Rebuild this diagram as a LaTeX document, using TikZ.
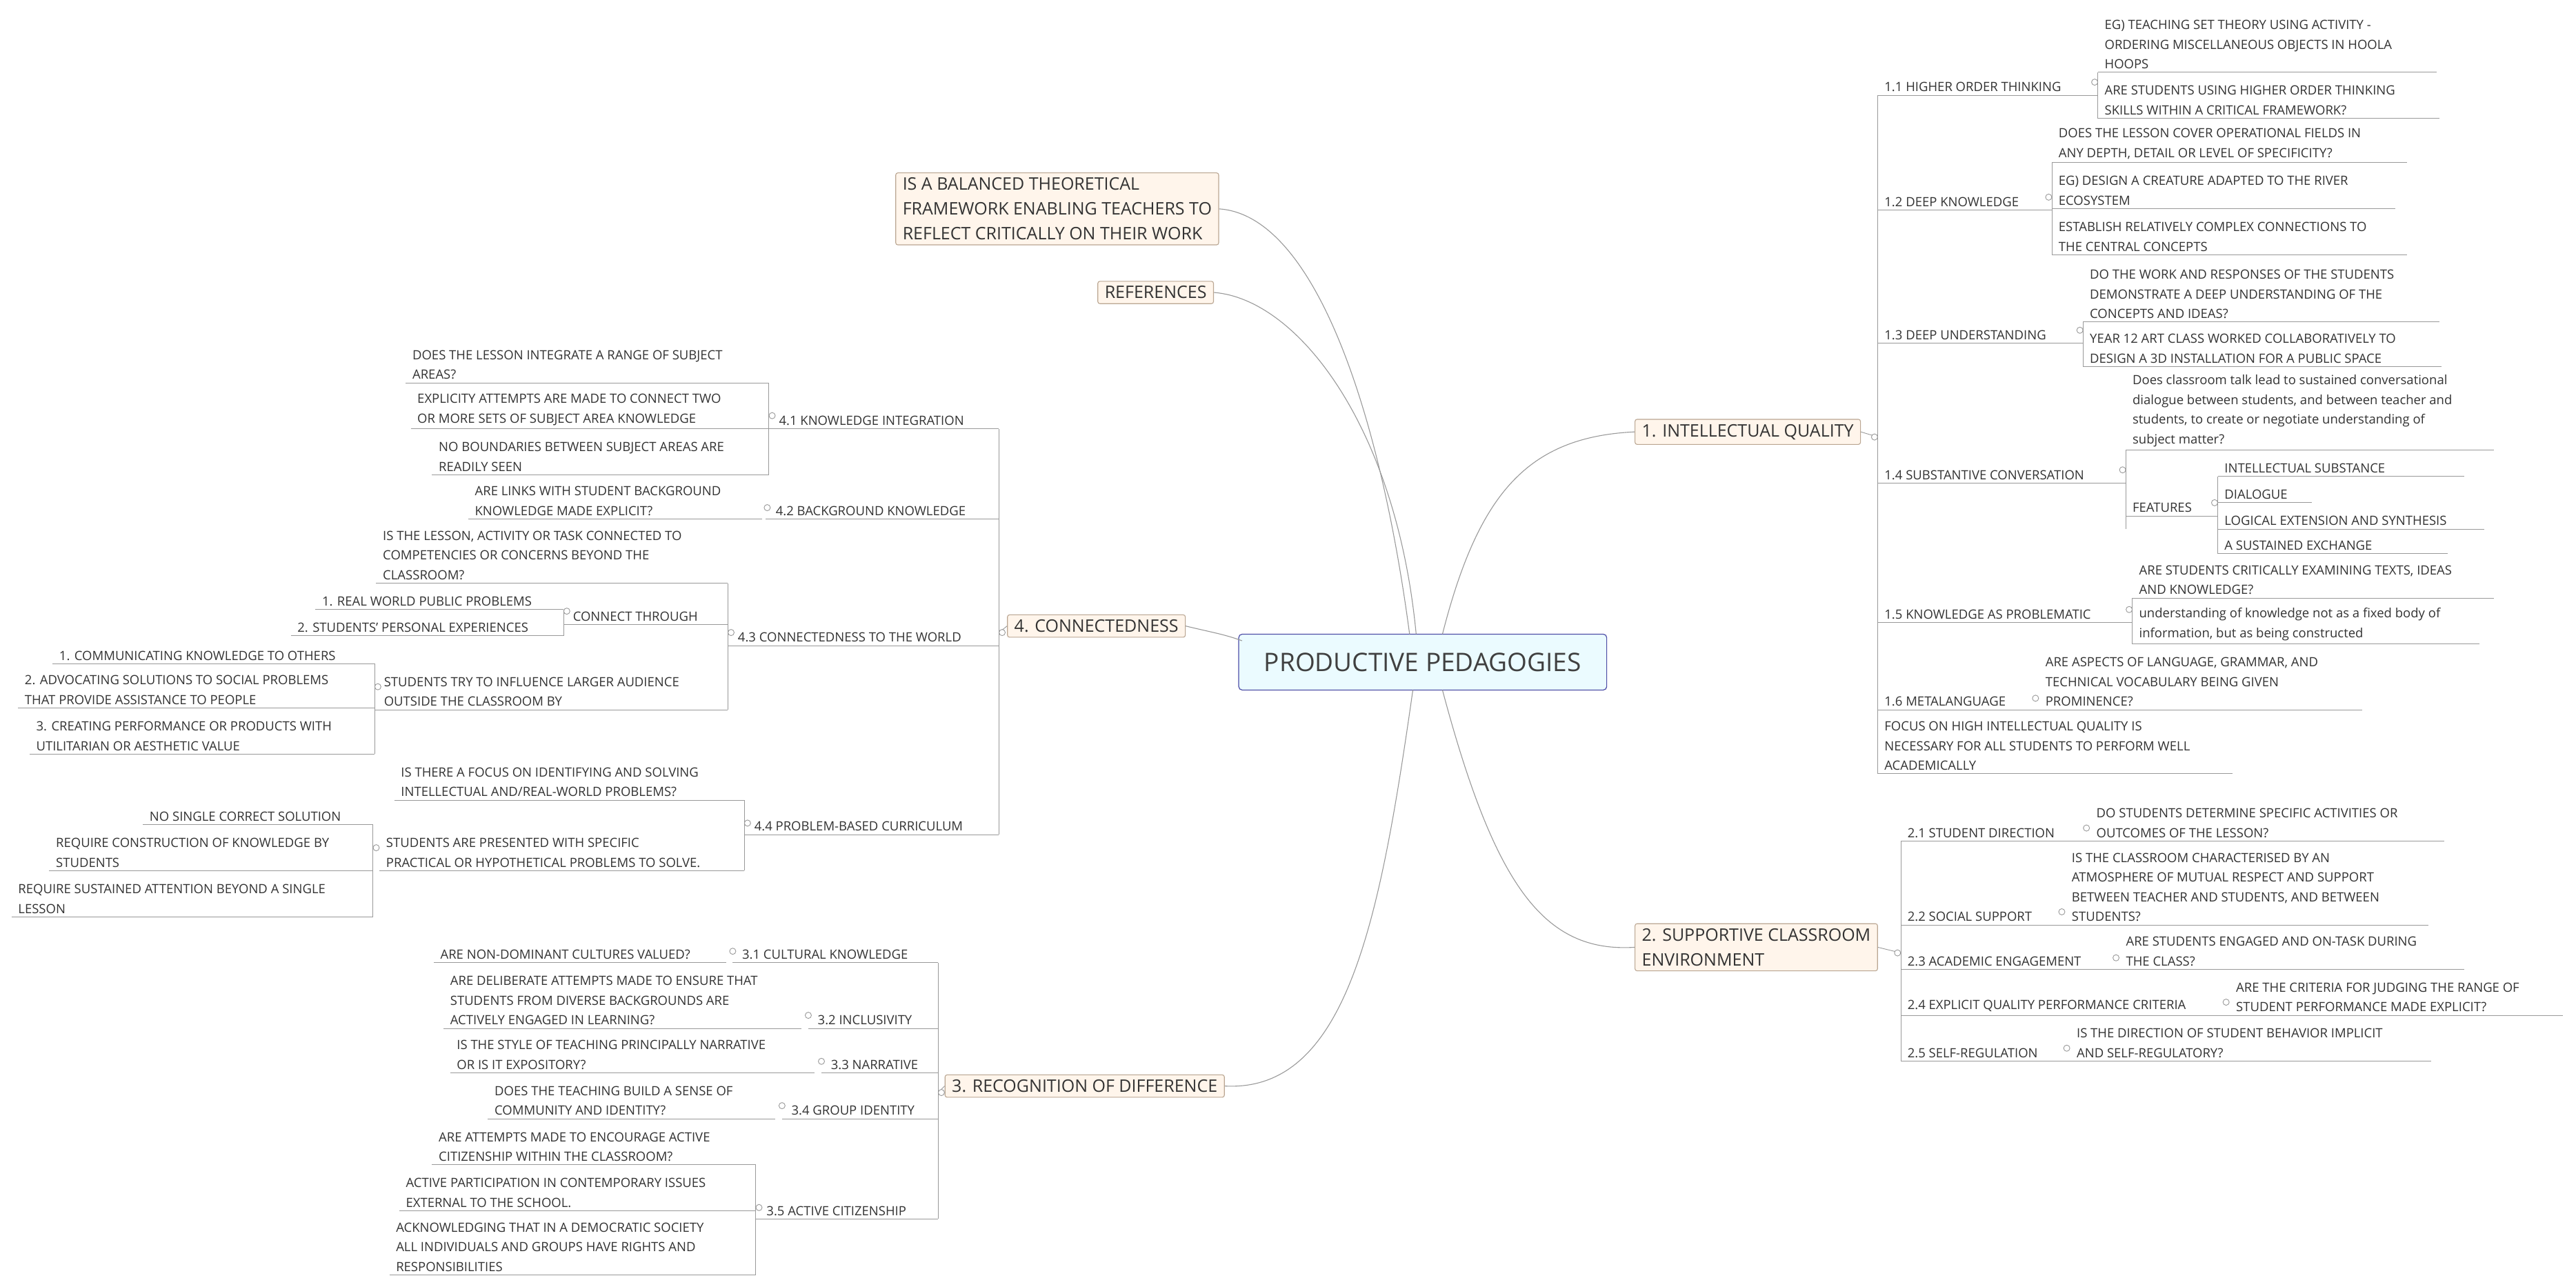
\documentclass[tikz,border=0pt]{standalone}
\usepackage{fontspec}
\setmainfont{Open Sans}
\begin{document}
\begin{tikzpicture}[x=2.382pt,y=-2.382pt,
  leaf/.style={inner sep=0pt,align=left,text=black!80,font=\fontsize{18.5}{28.6}\selectfont},
  ul/.style={draw=black!40,line width=0.9pt},
  curve/.style={draw=black!40,line width=1.1pt},
  topic/.style={draw=brown!45!gray!70,fill=orange!8,rounded corners=3pt,line width=1.1pt,inner xsep=10pt,inner ysep=7pt,align=left,text=black!80,font=\fontsize{25}{36}\selectfont,anchor=north west},
  central/.style={draw=blue!50!black!70,fill=blue!20!cyan!8!white,rounded corners=5pt,line width=1.2pt,minimum width=224*2.382pt,minimum height=34*2.382pt,text=black!75,font=\fontsize{37}{44}\selectfont}]
\useasboundingbox (0,0) rectangle (1568,783);
\newcommand\lf[5]{\node[leaf,anchor=south west] (#1) at (#2+4,#4-2) {#5};\draw[ul] (#2,#4) -- (#3,#4);}
\newcommand\brk[3]{\draw[ul] (#1,#2) -- (#1,#3);}
\newcommand\dc[2]{\draw[ul,fill=white] (#1,#2) circle[radius=4.5pt];}
% central
\node[central] (C) at (866,403) {PRODUCTIVE PEDAGOGIES};
% main topics
\node[topic] (T1) at (995,255) {1. INTELLECTUAL QUALITY};
\node[topic] (T2) at (995,562) {2. SUPPORTIVE CLASSROOM\\ENVIRONMENT};
\node[topic] (T3) at (575,654) {3. RECOGNITION OF DIFFERENCE};
\node[topic] (T4) at (613,374) {4. CONNECTEDNESS};
\node[topic] (TB) at (545,105) {IS A BALANCED THEORETICAL\\FRAMEWORK ENABLING TEACHERS TO\\REFLECT CRITICALLY ON THEIR WORK};
\node[topic] (TR) at (668,171) {REFERENCES};
% curves
\draw[curve] (878,386) .. controls (900,300) and (930,266) .. (T1.west);
\draw[curve] (878,420) .. controls (910,540) and (940,580) .. (T2.west);
\draw[curve] (860,420) .. controls (840,560) and (820,665) .. (T3.east);
\draw[curve] (756,390) .. controls (745,386) and (738,385) .. (T4.east);
\draw[curve] (858,386) .. controls (840,250) and (800,131) .. (TB.east);
\draw[curve] (862,386) .. controls (850,260) and (790,182) .. (TR.east);
% ===== Branch 1
\draw[ul] (T1.east) -- (1143,266); \dc{1141}{266}
\brk{1143}{58}{471}
\lf{s11}{1143}{1277}{58}{1.1 HIGHER ORDER THINKING}\dc{1275}{50}
\brk{1277}{44}{72}
\lf{l111}{1277}{1483}{44}{EG) TEACHING SET THEORY USING ACTIVITY -\\ORDERING MISCELLANEOUS OBJECTS IN HOOLA\\HOOPS}
\lf{l112}{1277}{1485}{72}{ARE STUDENTS USING HIGHER ORDER THINKING\\SKILLS WITHIN A CRITICAL FRAMEWORK?}
\lf{s12}{1143}{1249}{128}{1.2 DEEP KNOWLEDGE}\dc{1247}{120}
\brk{1249}{99}{155}
\lf{l121}{1249}{1465}{99}{DOES THE LESSON COVER OPERATIONAL FIELDS IN\\ANY DEPTH, DETAIL OR LEVEL OF SPECIFICITY?}
\lf{l122}{1249}{1458}{127}{EG) DESIGN A CREATURE ADAPTED TO THE RIVER\\ECOSYSTEM}
\lf{l123}{1249}{1465}{155}{ESTABLISH RELATIVELY COMPLEX CONNECTIONS TO\\THE CENTRAL CONCEPTS}
\lf{s13}{1143}{1268}{209}{1.3 DEEP UNDERSTANDING}\dc{1266}{201}
\brk{1268}{196}{223}
\lf{l131}{1268}{1485}{196}{DO THE WORK AND RESPONSES OF THE STUDENTS\\DEMONSTRATE A DEEP UNDERSTANDING OF THE\\CONCEPTS AND IDEAS?}
\lf{l132}{1268}{1486}{223}{YEAR 12 ART CLASS WORKED COLLABORATIVELY TO\\DESIGN A 3D INSTALLATION FOR A PUBLIC SPACE}
\lf{s14}{1143}{1294}{294}{1.4 SUBSTANTIVE CONVERSATION}\dc{1292}{286}
\brk{1294}{274}{322}
\lf{l141}{1294}{1518}{274}{Does classroom talk lead to sustained conversational\\dialogue between students, and between teacher and\\students, to create or negotiate understanding of\\subject matter?}
\lf{f14}{1294}{1350}{314}{FEATURES}\dc{1348}{306}
\brk{1350}{290}{337}
\lf{f1}{1350}{1500}{290}{INTELLECTUAL SUBSTANCE}
\lf{f2}{1350}{1407}{306}{DIALOGUE}
\lf{f3}{1350}{1512}{322}{LOGICAL EXTENSION AND SYNTHESIS}
\lf{f4}{1350}{1490}{337}{A SUSTAINED EXCHANGE}
\lf{s15}{1143}{1298}{379}{1.5 KNOWLEDGE AS PROBLEMATIC}\dc{1296}{371}
\brk{1298}{364}{392}
\lf{l151}{1298}{1518}{364}{ARE STUDENTS CRITICALLY EXAMINING TEXTS, IDEAS\\AND KNOWLEDGE?}
\lf{l152}{1298}{1509}{392}{understanding of knowledge not as a fixed body of\\information, but as being constructed}
\lf{s16}{1143}{1241}{432}{1.6 METALANGUAGE}\dc{1239}{425}
\lf{l161}{1241}{1438}{432}{ARE ASPECTS OF LANGUAGE, GRAMMAR, AND\\TECHNICAL VOCABULARY BEING GIVEN\\PROMINENCE?}
\lf{s17}{1143}{1359}{471}{FOCUS ON HIGH INTELLECTUAL QUALITY IS\\NECESSARY FOR ALL STUDENTS TO PERFORM WELL\\ACADEMICALLY}
% ===== Branch 2
\draw[ul] (T2.east) -- (1157,580); \dc{1155}{580}
\brk{1157}{512}{646}
\lf{s21}{1157}{1272}{512}{2.1 STUDENT DIRECTION}\dc{1270}{504}
\lf{l21}{1272}{1488}{512}{DO STUDENTS DETERMINE SPECIFIC ACTIVITIES OR\\OUTCOMES OF THE LESSON?}
\lf{s22}{1157}{1257}{563}{2.2 SOCIAL SUPPORT}\dc{1255}{555}
\lf{l22}{1257}{1478}{563}{IS THE CLASSROOM CHARACTERISED BY AN\\ATMOSPHERE OF MUTUAL RESPECT AND SUPPORT\\BETWEEN TEACHER AND STUDENTS, AND BETWEEN\\STUDENTS?}
\lf{s23}{1157}{1290}{590}{2.3 ACADEMIC ENGAGEMENT}\dc{1288}{583}
\lf{l23}{1290}{1500}{590}{ARE STUDENTS ENGAGED AND ON-TASK DURING\\THE CLASS?}
\lf{s24}{1157}{1357}{618}{2.4 EXPLICIT QUALITY PERFORMANCE CRITERIA}\dc{1355}{610}
\lf{l24}{1357}{1560}{618}{ARE THE CRITERIA FOR JUDGING THE RANGE OF\\STUDENT PERFORMANCE MADE EXPLICIT?}
\lf{s25}{1157}{1260}{646}{2.5 SELF-REGULATION}\dc{1258}{638}
\lf{l25}{1260}{1480}{646}{IS THE DIRECTION OF STUDENT BEHAVIOR IMPLICIT\\AND SELF-REGULATORY?}
% ===== Branch 4
\draw[ul] (T4.west) -- (608,385); \dc{610}{385}
\brk{608}{261}{508}
\lf{s41}{468}{608}{261}{\hspace*{5pt}4.1 KNOWLEDGE INTEGRATION}\dc{470}{253}
\brk{468}{233}{289}
\lf{l411}{247}{468}{233}{DOES THE LESSON INTEGRATE A RANGE OF SUBJECT\\AREAS?}
\lf{l412}{250}{468}{261}{EXPLICITY ATTEMPTS ARE MADE TO CONNECT TWO\\OR MORE SETS OF SUBJECT AREA KNOWLEDGE}
\lf{l413}{263}{468}{289}{NO BOUNDARIES BETWEEN SUBJECT AREAS ARE\\READILY SEEN}
\lf{s42}{466}{608}{316}{\hspace*{5pt}4.2 BACKGROUND KNOWLEDGE}\dc{467}{309}
\lf{l42}{285}{464}{316}{ARE LINKS WITH STUDENT BACKGROUND\\KNOWLEDGE MADE EXPLICIT?}
\lf{s43}{443}{608}{393}{\hspace*{5pt}4.3 CONNECTEDNESS TO THE WORLD}\dc{445}{385}
\brk{443}{355}{432}
\lf{l431}{229}{443}{355}{IS THE LESSON, ACTIVITY OR TASK CONNECTED TO\\COMPETENCIES OR CONCERNS BEYOND THE\\CLASSROOM?}
\lf{c43}{343}{443}{380}{\hspace*{4pt}CONNECT THROUGH}\dc{345}{372}
\brk{343}{371}{387}
\lf{c431}{192}{343}{371}{1. REAL WORLD PUBLIC PROBLEMS}
\lf{c432}{177}{343}{387}{2. STUDENTS' PERSONAL EXPERIENCES}
\lf{l432}{228}{443}{432}{\hspace*{4pt}STUDENTS TRY TO INFLUENCE LARGER AUDIENCE\\\hspace*{4pt}OUTSIDE THE CLASSROOM BY}\dc{230}{418}
\brk{228}{404}{459}
\lf{m1}{32}{228}{404}{1. COMMUNICATING KNOWLEDGE TO OTHERS}
\lf{m2}{11}{228}{431}{2. ADVOCATING SOLUTIONS TO SOCIAL PROBLEMS\\THAT PROVIDE ASSISTANCE TO PEOPLE}
\lf{m3}{18}{228}{459}{3. CREATING PERFORMANCE OR PRODUCTS WITH\\UTILITARIAN OR AESTHETIC VALUE}
\lf{s44}{453}{608}{508}{\hspace*{5pt}4.4 PROBLEM-BASED CURRICULUM}\dc{455}{501}
\brk{453}{487}{530}
\lf{l441}{240}{453}{487}{IS THERE A FOCUS ON IDENTIFYING AND SOLVING\\INTELLECTUAL AND/REAL-WORLD PROBLEMS?}
\lf{l442}{231}{453}{530}{STUDENTS ARE PRESENTED WITH SPECIFIC\\PRACTICAL OR HYPOTHETICAL PROBLEMS TO SOLVE.}\dc{229}{516}
\brk{227}{502}{558}
\lf{p1}{87}{227}{502}{NO SINGLE CORRECT SOLUTION}
\lf{p2}{30}{227}{530}{REQUIRE CONSTRUCTION OF KNOWLEDGE BY\\STUDENTS}
\lf{p3}{7}{227}{558}{REQUIRE SUSTAINED ATTENTION BEYOND A SINGLE\\LESSON}
% ===== Branch 3
\draw[ul] (T3.west) -- (571,665); \dc{573}{665}
\brk{571}{586}{742}
\lf{s31}{446}{571}{586}{\hspace*{4pt}3.1 CULTURAL KNOWLEDGE}\dc{446}{579}
\lf{l31}{264}{442}{586}{ARE NON-DOMINANT CULTURES VALUED?}
\lf{s32}{492}{571}{626}{\hspace*{4pt}3.2 INCLUSIVITY}\dc{492}{618}
\lf{l32}{270}{488}{626}{ARE DELIBERATE ATTEMPTS MADE TO ENSURE THAT\\STUDENTS FROM DIVERSE BACKGROUNDS ARE\\ACTIVELY ENGAGED IN LEARNING?}
\lf{s33}{500}{571}{653}{\hspace*{4pt}3.3 NARRATIVE}\dc{500}{646}
\lf{l33}{274}{496}{653}{IS THE STYLE OF TEACHING PRINCIPALLY NARRATIVE\\OR IS IT EXPOSITORY?}
\lf{s34}{476}{571}{681}{\hspace*{4pt}3.4 GROUP IDENTITY}\dc{476}{673}
\lf{l34}{297}{472}{681}{DOES THE TEACHING BUILD A SENSE OF\\COMMUNITY AND IDENTITY?}
\lf{s35}{460}{571}{742}{\hspace*{6pt}3.5 ACTIVE CITIZENSHIP}\dc{462}{735}
\brk{460}{709}{776}
\lf{l351}{263}{460}{709}{ARE ATTEMPTS MADE TO ENCOURAGE ACTIVE\\CITIZENSHIP WITHIN THE CLASSROOM?}
\lf{l352}{243}{460}{737}{ACTIVE PARTICIPATION IN CONTEMPORARY ISSUES\\EXTERNAL TO THE SCHOOL.}
\lf{l353}{237}{460}{776}{ACKNOWLEDGING THAT IN A DEMOCRATIC SOCIETY\\ALL INDIVIDUALS AND GROUPS HAVE RIGHTS AND\\RESPONSIBILITIES}
\end{tikzpicture}
\end{document}
